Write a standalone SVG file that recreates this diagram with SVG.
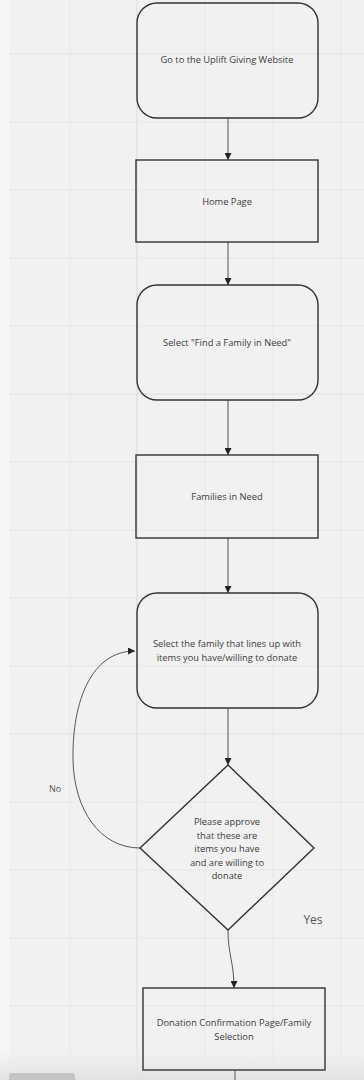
<svg xmlns="http://www.w3.org/2000/svg" width="364" height="1080" viewBox="0 0 364 1080">
  <defs>
    <style>
      .node { fill: none; stroke: #333; stroke-width: 1.4; }
      .lbl { font-family: "Open Sans", "Liberation Sans", sans-serif; font-size: 9.3px; fill: #3c3c3c; text-anchor: middle; }
      .side { font-family: "Open Sans", "Liberation Sans", sans-serif; fill: #555; }
      .edge { fill: none; stroke: #555; stroke-width: 1; }
      .grid { stroke: #e7e7e7; stroke-width: 1; }
      .grid-major { stroke: #e0e0e0; stroke-width: 1.2; }
    </style>
    <marker id="arrow" viewBox="0 0 10 10" refX="10" refY="5" markerWidth="7" markerHeight="7" markerUnits="userSpaceOnUse" orient="auto">
      <path d="M0,0 L10,5 L0,10 Z" fill="#222"/>
    </marker>
    <linearGradient id="shade" x1="0" y1="0" x2="0" y2="1">
      <stop offset="0" stop-color="#f1f1f1" stop-opacity="0"/>
      <stop offset="1" stop-color="#e2e2e2"/>
    </linearGradient>
  </defs>

  <!-- canvas -->
  <rect x="0" y="0" width="364" height="1080" fill="#f1f1f1"/>
  <rect x="0" y="0" width="9" height="1080" fill="#f7f7f7"/>

  <!-- grid -->
  <g id="grid">
    <line class="grid" x1="70" y1="0" x2="70" y2="1080"/>
    <line class="grid-major" x1="137" y1="0" x2="137" y2="1080"/>
    <line class="grid" x1="205" y1="0" x2="205" y2="1080"/>
    <line class="grid" x1="273" y1="0" x2="273" y2="1080"/>
    <line class="grid" x1="341" y1="0" x2="341" y2="1080"/>
    <line class="grid-major" x1="9" y1="54" x2="364" y2="54"/>
    <line class="grid" x1="9" y1="122" x2="364" y2="122"/>
    <line class="grid" x1="9" y1="190" x2="364" y2="190"/>
    <line class="grid" x1="9" y1="258" x2="364" y2="258"/>
    <line class="grid" x1="9" y1="326" x2="364" y2="326"/>
    <line class="grid-major" x1="9" y1="394" x2="364" y2="394"/>
    <line class="grid" x1="9" y1="462" x2="364" y2="462"/>
    <line class="grid" x1="9" y1="530" x2="364" y2="530"/>
    <line class="grid" x1="9" y1="598" x2="364" y2="598"/>
    <line class="grid" x1="9" y1="666" x2="364" y2="666"/>
    <line class="grid-major" x1="9" y1="734" x2="364" y2="734"/>
    <line class="grid" x1="9" y1="802" x2="364" y2="802"/>
    <line class="grid" x1="9" y1="870" x2="364" y2="870"/>
    <line class="grid" x1="9" y1="938" x2="364" y2="938"/>
    <line class="grid" x1="9" y1="1006" x2="364" y2="1006"/>
    <line class="grid-major" x1="9" y1="1074" x2="364" y2="1074"/>
  </g>
  <rect x="0" y="1040" width="364" height="40" fill="url(#shade)"/>

  <!-- connectors -->
  <g id="connectors">
    <line class="edge" x1="228" y1="118" x2="228" y2="160" marker-end="url(#arrow)"/>
    <line class="edge" x1="228" y1="242" x2="228" y2="285" marker-end="url(#arrow)"/>
    <line class="edge" x1="228" y1="400" x2="228" y2="455" marker-end="url(#arrow)"/>
    <line class="edge" x1="228" y1="538" x2="228" y2="593" marker-end="url(#arrow)"/>
    <line class="edge" x1="228" y1="708" x2="228" y2="765" marker-end="url(#arrow)"/>
    <path class="edge" d="M140,848 C100,848 74,810 73,760 C72,700 92,651 135,651" marker-end="url(#arrow)"/>
    <path class="edge" d="M228,930 C228,955 234,962 234,988" marker-end="url(#arrow)"/>
    <line class="edge" x1="235" y1="1070" x2="235" y2="1080"/>
    <text class="side" x="55" y="792" font-size="9" text-anchor="middle">No</text>
    <text class="side" x="313" y="924" font-size="12" text-anchor="middle">Yes</text>
  </g>

  <g id="n1">
    <rect class="node" x="137" y="3" width="181" height="115" rx="20"/>
    <text class="lbl" x="227" y="63">Go to the Uplift Giving Website</text>
  </g>
  <g id="n2">
    <rect class="node" x="136" y="160" width="182" height="82"/>
    <text class="lbl" x="227" y="205">Home Page</text>
  </g>
  <g id="n3">
    <rect class="node" x="137" y="285" width="181" height="115" rx="20"/>
    <text class="lbl" x="227" y="346">Select "Find a Family in Need"</text>
  </g>
  <g id="n4">
    <rect class="node" x="136" y="455" width="182" height="83"/>
    <text class="lbl" x="227" y="500">Families in Need</text>
  </g>
  <g id="n5">
    <rect class="node" x="137" y="593" width="181" height="115" rx="20"/>
    <text class="lbl" x="227" y="647">Select the family that lines up with</text>
    <text class="lbl" x="227" y="661">items you have/willing to donate</text>
  </g>
  <g id="n6">
    <polygon class="node" points="228,765 314,848 228,930 140,848"/>
    <text class="lbl" x="227" y="825">Please approve</text>
    <text class="lbl" x="227" y="838.5">that these are</text>
    <text class="lbl" x="227" y="852">items you have</text>
    <text class="lbl" x="227" y="865.5">and are willing to</text>
    <text class="lbl" x="227" y="879">donate</text>
  </g>
  <g id="n7">
    <rect class="node" x="143" y="988" width="182" height="82"/>
    <text class="lbl" x="234" y="1026">Donation Confirmation Page/Family</text>
    <text class="lbl" x="234" y="1040">Selection</text>
  </g>

  <!-- scrollbar -->
  <rect x="9" y="1073" width="66" height="10" rx="3" fill="#c4c4c4"/>
</svg>
